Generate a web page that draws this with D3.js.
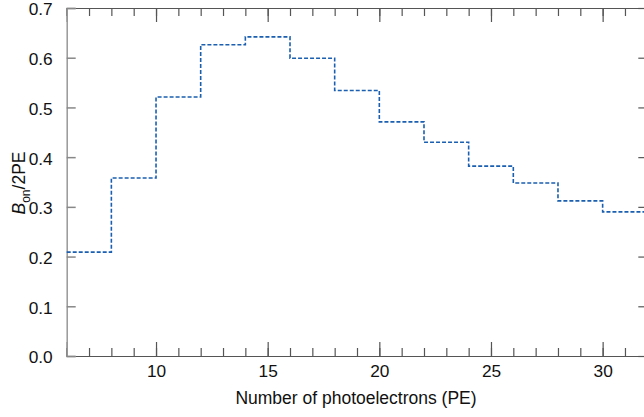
<!DOCTYPE html>
<html><head><meta charset="utf-8">
<script src="https://cdn.jsdelivr.net/npm/d3@7"></script>
<style>body{margin:0;background:#fff}svg{display:block}text{font-family:"Liberation Sans",Arial,sans-serif}</style>
</head><body><svg id="c" width="644" height="417"></svg>
<script>
const binStarts = [6, 8, 10, 12, 14, 16, 18, 20, 22, 24, 26, 28, 30];
const binWidth = 2;
const values = [0.209, 0.358, 0.521, 0.626, 0.642, 0.599, 0.534, 0.471, 0.430, 0.382, 0.348, 0.312, 0.290];
const xTicks = [10, 15, 20, 25, 30];
const yTicks = [0.0, 0.1, 0.2, 0.3, 0.4, 0.5, 0.6, 0.7];

const svg = d3.select("#c");
const L = 66.7, R = 647.3, T = 8, B = 356;
const x = d3.scaleLinear().domain([6, 32]).range([L, R]);
const y = d3.scaleLinear().domain([0, 0.7]).range([B, T]);
const minor = d3.range(6, 33, 1);

const axisCol = "#555";
const gb = svg.append("g").attr("transform", `translate(0,${B})`)
  .call(d3.axisBottom(x).tickValues(minor).tickSize(-8).tickFormat(""));
const gbM = svg.append("g").attr("transform", `translate(0,${B})`)
  .call(d3.axisBottom(x).tickValues(xTicks).tickSize(-14).tickPadding(21.3).tickFormat(d3.format("d")));
const gt = svg.append("g").attr("transform", `translate(0,${T})`)
  .call(d3.axisTop(x).tickValues(minor).tickSize(-8).tickFormat(""));
const gtM = svg.append("g").attr("transform", `translate(0,${T})`)
  .call(d3.axisTop(x).tickValues(xTicks).tickSize(-14).tickFormat(""));
const gl = svg.append("g").attr("transform", `translate(${L},0)`)
  .call(d3.axisLeft(y).tickValues(yTicks).tickSize(-9).tickPadding(14).tickFormat(d3.format(".1f")));
const gr = svg.append("g").attr("transform", `translate(${R},0)`)
  .call(d3.axisRight(y).tickValues(yTicks).tickSize(-9).tickFormat(""));

[gb, gbM, gt, gtM, gr].forEach(g => {
  g.select(".domain").attr("stroke", axisCol).attr("stroke-width", 1.2);
  g.selectAll(".tick line").attr("stroke", axisCol).attr("stroke-width", 1.2);
});
gl.select(".domain").attr("stroke", "#999").attr("stroke-width", 1.5);
gl.selectAll(".tick line").attr("stroke", "#888").attr("stroke-width", 1.5);
gbM.selectAll(".tick text").attr("font-size", 17.3).attr("fill", "#111").attr("dy", "0");
gl.selectAll(".tick text").attr("font-size", 17.3).attr("fill", "#111").attr("dy", "0.4em");
svg.selectAll(".domain").attr("fill", "none");

const pts = [];
binStarts.forEach((s, i) => { pts.push([s, values[i]]); pts.push([s + binWidth, values[i]]); });
const line = d3.line().x(d => x(d[0])).y(d => y(d[1]));
svg.append("path").datum(pts).attr("d", line)
  .attr("fill", "none").attr("stroke", "#1a5fb0").attr("stroke-width", 1.6)
  .attr("stroke-dasharray", "4,2");

svg.append("text").attr("x", 356).attr("y", 404).attr("text-anchor", "middle")
  .attr("font-size", 17.5).attr("fill", "#111").text("Number of photoelectrons (PE)");
const yl = svg.append("text").attr("transform", `translate(25,183) rotate(-90)`)
  .attr("text-anchor", "middle").attr("font-size", 17.5).attr("fill", "#111");
yl.append("tspan").attr("font-style", "italic").text("B");
yl.append("tspan").attr("font-size", 12).attr("dy", 5).text("on");
yl.append("tspan").attr("dy", -5).text("/2PE");
</script></body></html>
